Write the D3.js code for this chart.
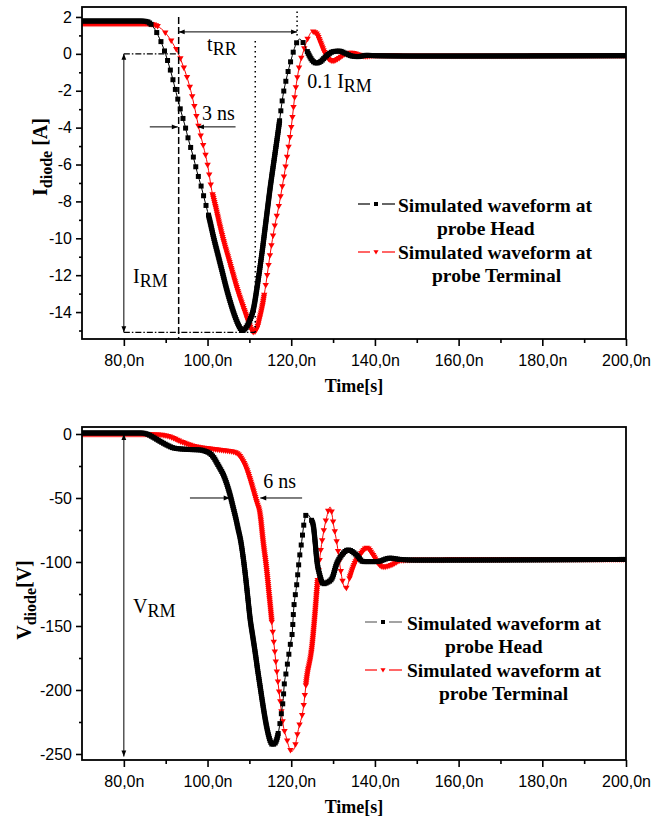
<!DOCTYPE html>
<html>
<head>
<meta charset="utf-8">
<script src="https://cdn.jsdelivr.net/npm/d3@7"></script>
<style>
body{margin:0;background:#fff;}
svg text{font-family:"Liberation Serif","Times New Roman",serif;fill:#000;}
.tick text{font-family:"Liberation Sans",Arial,sans-serif;font-size:16px;}
</style>
</head>
<body>
<svg id="chart" width="663" height="823"></svg>
<script>
// axes
var xDomain=[70,200];
var xTicks=[80,100,120,140,160,180,200];
var xMinor=[90,110,130,150,170,190];
var iTicks=[-14,-12,-10,-8,-6,-4,-2,0,2];
var iMinor=[-15,-13,-11,-9,-7,-5,-3,-1,1];
var vTicks=[-250,-200,-150,-100,-50,0];
var vMinor=[-225,-175,-125,-75,-25];
var legendHead=["Simulated waveform at","probe Head"];
var legendTerm=["Simulated waveform at","probe Terminal"];

// diode current, probe Head (ns, A)
var tHeadI=[70,84,85.5,86.5,87.5,88.5,89.5,90.5,91.5,92.5,93.5,94.5,95.5,96.5,97.5,98.5,99.5,100.5,101.5,102.5,103.5,104.5,105.5,106.5,107.5,108.3,109,110,111,112,113,114,115,116,117,118,119,120,121,122,123,124,125,126,127,128,129,130,131.5,133,134.5,136,138,140,150,200];
var iHead=[1.78,1.78,1.75,1.6,1.3,0.85,0.3,-0.4,-1.2,-2.1,-3.0,-3.8,-4.7,-5.5,-6.4,-7.2,-8.1,-9.0,-10.0,-10.9,-11.8,-12.7,-13.5,-14.2,-14.75,-15.0,-14.9,-14.5,-13.8,-12.4,-10.8,-9.0,-7.2,-5.6,-4.0,-2.3,-1.2,-0.3,0.45,0.8,0.55,0.05,-0.35,-0.5,-0.42,-0.2,0.0,0.12,0.15,0.02,-0.12,-0.15,-0.08,-0.1,-0.12,-0.1];
// diode current, probe Terminal
var tTermI=[70,85,87,88,89,90,91,92,93,94,95,96,97,98,99,100,101,102,103,104,105,106,107,108,109,110,111,111.8,112.5,113,114,115,116,117,118,119,120,121,122,123,124,125,126,127,128,129,130,131,132,133,134.5,136,138,140,150,200];
var iTerm=[1.62,1.62,1.58,1.5,1.35,1.12,0.82,0.45,0.03,-0.55,-1.2,-2.0,-3.0,-4.1,-5.0,-6.0,-7.4,-8.4,-9.4,-10.3,-11.1,-11.9,-12.7,-13.4,-14.05,-14.7,-15.1,-14.9,-14.3,-13.8,-12.4,-10.8,-9.4,-8.3,-7.0,-5.6,-4.0,-2.0,-0.6,0.2,0.85,1.2,1.1,0.6,0.05,-0.3,-0.4,-0.3,-0.15,0.0,0.05,-0.05,-0.15,-0.1,-0.12,-0.1];

// diode voltage, probe Head (ns, V)
var tHeadV=[70,84,85.5,87,88.8,90.5,92,95,98.3,99.5,100.7,101.5,102.3,103,103.8,104.7,105.5,106.1,106.7,107.3,107.9,108.5,109,109.6,110.2,110.8,111.4,112,112.6,113.2,113.8,114.4,115,115.5,116,116.5,117,117.7,118.1,118.3,118.8,119.3,119.8,120.3,120.5,121.3,121.9,122.5,123.05,123.7,124.3,124.8,125.3,125.7,126.1,126.8,127.7,128.6,129.7,130.9,132.1,133.6,135.6,137.2,140.4,143.6,146,150,200];
var vHead=[0.8,0.8,0,-2.5,-6,-9,-11,-12,-12.5,-13.5,-15.5,-18.5,-23,-27,-32,-40,-49,-57,-65,-74,-83,-96,-109,-127,-145,-158,-171,-185,-198,-211,-223,-233,-240,-242.5,-242,-239,-232,-217,-206.5,-197,-186,-175,-164,-153,-141,-118,-98.4,-84,-70,-62.5,-64,-67,-72,-84,-98,-110,-117,-116,-113,-101,-94.5,-90.6,-94.5,-99.7,-99.7,-97,-98,-98.5,-98];
// diode voltage, probe Terminal
var tTermV=[70,86,88.8,91.2,93.6,96.7,101.4,104,106.2,107.2,107.8,108.6,109.4,110.3,111.1,111.8,112.5,113.3,114.1,114.9,115.5,116.1,116.5,117.3,118,118.9,119.5,120.1,120.8,121.7,122.9,123.7,124.9,125.7,126.3,126.9,127.6,128.4,129.3,130.2,130.9,131.7,132.4,132.9,133.4,134,135.2,136.8,138,139.5,140.7,141.9,144.3,146,150,200];
var vTerm=[-0.5,-0.5,-0.8,-2.5,-6,-9.5,-12,-13,-14,-15.5,-17.7,-22,-28,-37,-46,-54,-62,-85,-106,-132,-152,-171,-184,-207,-226,-238,-245,-248,-245,-231,-214,-191,-168,-140,-115,-95,-79,-66,-57,-72.6,-85,-104,-117,-121,-119,-112,-101,-93,-89,-94.5,-101,-104,-102,-99,-98.5,-98];

// marker density: time windows where the simulator points are sparse
var sparseHeadI=[[86.5,100],[117.2,123]];
var sparseTermI=[[88,101],[113.5,124]];
var sparseHeadV=[[116.8,123.8]];
var sparseTermV=[[115.3,123.3],[126.3,133.5]];

var svg=d3.select("#chart");
var defs=svg.append("defs");
defs.append("marker").attr("id","arr")
  .attr("viewBox","0 0 10 10").attr("refX",10).attr("refY",5)
  .attr("markerWidth",8).attr("markerHeight",6).attr("markerUnits","userSpaceOnUse")
  .attr("orient","auto-start-reverse")
  .append("path").attr("d","M0,1L10,5L0,9Z").attr("fill","#000");

var square="M-2.5,-2.5h5v5h-5Z",
 tri="M-3.2,-2.3L3.2,-2.3L0,3.2Z";

var x=d3.scaleLinear().domain(xDomain).range([82,626]);

function fmtX(d){ return d.toFixed(1).replace(".",",")+"n"; }

function panel(o){
  var y=d3.scaleLinear().domain(o.yDomain).range([o.y1,o.y0]);
  var g=svg.append("g");
  defs.append("clipPath").attr("id","clip"+o.id)
    .append("rect").attr("x",82).attr("y",o.y0).attr("width",544).attr("height",o.y1-o.y0);
  var plot=g.append("g").attr("clip-path","url(#clip"+o.id+")");

  o.series.forEach(function(s){
    var pts=s.t.map(function(t,i){ return [t,s.v[i]]; });
    var line=d3.line().x(function(d){return x(d[0]);}).y(function(d){return y(d[1]);}).curve(d3.curveMonotoneX);
    var path=plot.append("path").attr("d",line(pts))
      .attr("fill","none").attr("stroke",s.color).attr("stroke-width",1);
    var node=path.node(), L=node.getTotalLength(), pos=0, marks=[];
    while(pos<=L){
      var p=node.getPointAtLength(pos);
      marks.push([p.x,p.y]);
      var t=x.invert(p.x);
      var sp=s.sparse.some(function(w){ return t>=w[0] && t<=w[1]; });
      pos+= sp ? 10 : 2;
    }
    plot.append("g").selectAll("path").data(marks).enter().append("path")
      .attr("transform",function(d){ return "translate("+d[0]+","+d[1]+")"; })
      .attr("d",s.shape).attr("fill",s.color);
  });

  // axes
  var xa=g.append("g").attr("transform","translate(0,"+o.y1+")")
    .call(d3.axisBottom(x).tickValues(xTicks).tickSize(7).tickPadding(9).tickSizeOuter(0).tickFormat(fmtX));
  var xm=g.append("g").attr("transform","translate(0,"+o.y1+")")
    .call(d3.axisBottom(x).tickValues(xMinor).tickSize(4).tickSizeOuter(0).tickFormat(""));
  var ya=g.append("g").attr("transform","translate(82,0)")
    .call(d3.axisLeft(y).tickValues(o.yTicks).tickSize(6).tickPadding(4).tickSizeOuter(0).tickFormat(function(d){return String(d);}));
  var ym=g.append("g").attr("transform","translate(82,0)")
    .call(d3.axisLeft(y).tickValues(o.yMinor).tickSize(3).tickSizeOuter(0).tickFormat(""));
  [xa,xm,ya,ym].forEach(function(a){
    a.select(".domain").remove();
    a.selectAll(".tick line").attr("stroke-width",1.6);
  });
  g.append("rect").attr("x",82).attr("y",o.y0).attr("width",544).attr("height",o.y1-o.y0)
    .attr("fill","none").attr("stroke","#000").attr("stroke-width",1.8);

  g.append("text").attr("x",354).attr("y",o.y1+53).attr("text-anchor","middle")
    .attr("font-weight","bold").attr("font-size",18).text("Time[s]");

  var yl=g.append("text").attr("transform","translate("+o.labelX+","+o.labelY+") rotate(-90)")
    .attr("text-anchor","middle").attr("font-weight","bold").attr("font-size",20);
  yl.append("tspan").text(o.label[0]);
  yl.append("tspan").attr("font-size",16).attr("dy",5).text(o.label[1]);
  yl.append("tspan").attr("dy",-5).text(o.label[2]);

  // legend
  o.legend.forEach(function(l){
    var lg=g.append("g");
    lg.append("line").attr("x1",l.lx).attr("x2",l.lx+12).attr("y1",l.ly).attr("y2",l.ly).attr("stroke",l.lineColor).attr("stroke-width",1.2);
    lg.append("line").attr("x1",l.lx+24).attr("x2",l.lx+37).attr("y1",l.ly).attr("y2",l.ly).attr("stroke",l.lineColor).attr("stroke-width",1.2);
    lg.append("path").attr("transform","translate("+(l.lx+18)+","+l.ly+") scale(0.8)").attr("d",l.shape).attr("fill",l.color);
    lg.append("text").attr("x",l.tx).attr("y",l.ty).attr("font-weight","bold").attr("font-size",19.5).text(l.text[0]);
    lg.append("text").attr("x",l.tx2).attr("y",l.ty+23).attr("font-weight","bold").attr("font-size",19.5).text(l.text[1]);
  });

  return {g:g,y:y};
}

function vline(g,t,v1,v2,y,dash,w){
  return g.append("line").attr("x1",x(t)).attr("x2",x(t)).attr("y1",y(v1)).attr("y2",y(v2))
    .attr("stroke","#000").attr("stroke-width",w||1).attr("stroke-dasharray",dash||null);
}
function hline(g,v,t1,t2,y,dash,w){
  return g.append("line").attr("x1",x(t1)).attr("x2",x(t2)).attr("y1",y(v)).attr("y2",y(v))
    .attr("stroke","#000").attr("stroke-width",w||1).attr("stroke-dasharray",dash||null);
}
function label(g,t,v,y,main,sub,tail){
  var tx=g.append("text").attr("x",x(t)).attr("y",y(v)).attr("font-size",20);
  tx.append("tspan").text(main);
  if(sub) tx.append("tspan").attr("font-size",18).attr("dy",4).text(sub);
  if(tail) tx.append("tspan").attr("dy",-4).text(tail);
}

// top panel: current
var panelI=panel({
  id:"i", y0:7, y1:339, yDomain:[-15.46,2.54], yTicks:iTicks, yMinor:iMinor,
  labelX:47, labelY:157, label:["I","diode"," [A]"],
  series:[
    {t:tTermI,v:iTerm,color:"#ff0000",shape:tri,sparse:sparseTermI},
    {t:tHeadI,v:iHead,color:"#000",shape:square,sparse:sparseHeadI}
  ],
  legend:[
    {lx:358,ly:204,lineColor:"#000",color:"#000",shape:square,tx:398,ty:212,tx2:437,text:legendHead},
    {lx:358,ly:252,lineColor:"#ff0000",color:"#ff0000",shape:tri,tx:398,ty:259,tx2:432,text:legendTerm}
  ]
});
(function(g,y){
  hline(g,0,80,93.1,y,"6,2,1.5,2",1.2);
  hline(g,-15.1,80,111.4,y,"6,2,1.5,2",1.2);
  vline(g,80,0,-15.1,y).attr("marker-start","url(#arr)").attr("marker-end","url(#arr)");
  vline(g,93.1,2.0,-15.46,y,"7,3",1.5);
  vline(g,111.4,0.7,-15.1,y,"1.5,3.5",1.5);
  vline(g,121.4,2.3,0.85,y,"1.5,3",1.5);
  hline(g,1.19,93.1,121.4,y).attr("marker-start","url(#arr)").attr("marker-end","url(#arr)");
  hline(g,-3.96,86.2,92.9,y).attr("marker-end","url(#arr)");
  hline(g,-3.96,106.7,97.7,y).attr("marker-end","url(#arr)");
  label(g,99.9,0.16,y,"t","RR");
  label(g,98.7,-3.6,y,"3 ns");
  label(g,123.8,-1.85,y,"0.1 I","RM");
  label(g,82.2,-12.43,y,"I","RM");
})(panelI.g,panelI.y);

// bottom panel: voltage
var panelV=panel({
  id:"v", y0:427, y1:760, yDomain:[-254.7,5.47], yTicks:vTicks, yMinor:vMinor,
  labelX:31, labelY:600, label:["V","diode","[V]"],
  series:[
    {t:tTermV,v:vTerm,color:"#ff0000",shape:tri,sparse:sparseTermV},
    {t:tHeadV,v:vHead,color:"#000",shape:square,sparse:sparseHeadV}
  ],
  legend:[
    {lx:365,ly:622,lineColor:"#666",color:"#000",shape:square,tx:407,ty:630,tx2:445,text:legendHead},
    {lx:365,ly:670,lineColor:"#ff0000",color:"#ff0000",shape:tri,tx:407,ty:677,tx2:439,text:legendTerm}
  ]
});
(function(g,y){
  vline(g,80,0,-252,y).attr("marker-start","url(#arr)").attr("marker-end","url(#arr)");
  hline(g,-50,95.8,105.3,y).attr("marker-end","url(#arr)");
  hline(g,-50,122.6,112.6,y).attr("marker-end","url(#arr)");
  label(g,113.3,-42.2,y,"6 ns");
  label(g,82.2,-139.8,y,"V","RM");
})(panelV.g,panelV.y);
</script>
</body>
</html>
